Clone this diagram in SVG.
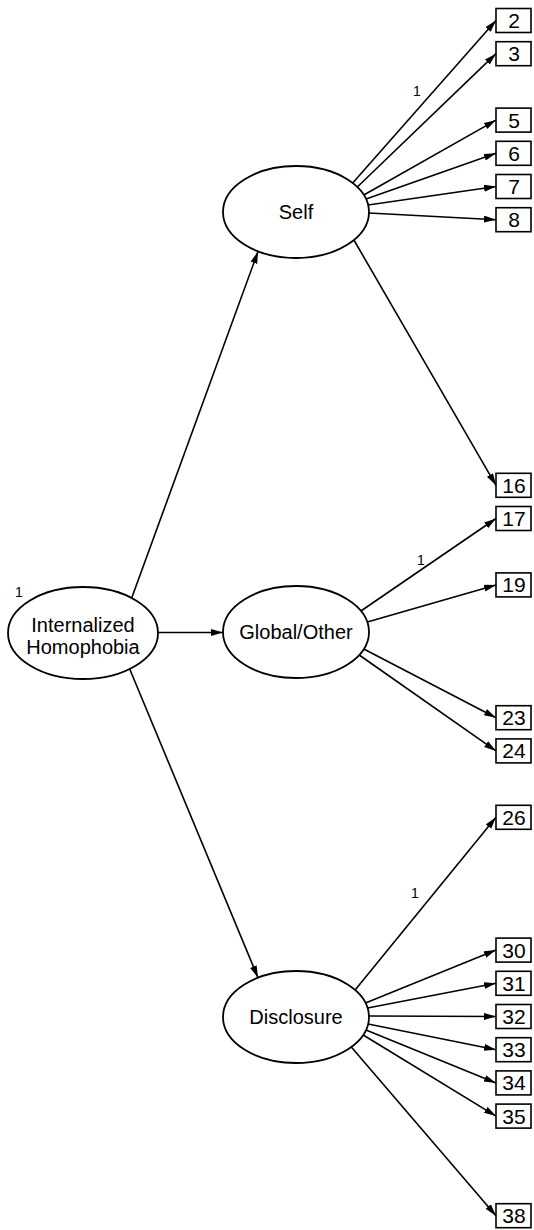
<svg xmlns="http://www.w3.org/2000/svg" width="534" height="1230" viewBox="0 0 534 1230">
<style>
.bg{fill:#fff}
.lat{fill:#fff;stroke:#000;stroke-width:1.8}
.obs{fill:#fff;stroke:#000;stroke-width:1.6}
.t{font-family:"Liberation Sans",Arial,sans-serif;font-size:20px;fill:#000;text-anchor:middle}
.n{font-family:"Liberation Sans",Arial,sans-serif;font-size:21px;fill:#000;text-anchor:middle}
.w{font-family:"Liberation Sans",Arial,sans-serif;font-size:14px;fill:#000;text-anchor:middle}
.e{stroke:#000;stroke-width:1.6;fill:none;marker-end:url(#ah)}
</style>
<defs>
<marker id="ah" markerUnits="userSpaceOnUse" markerWidth="13" markerHeight="8" refX="12" refY="3.5" orient="auto">
<path d="M0,0 L12,3.5 L0,7 z" fill="#000"/>
</marker>
</defs>
<rect class="bg" x="0" y="0" width="534" height="1230"/>
<g id="connectors">
<line class="e" x1="131.7" y1="598" x2="258" y2="251.5"/>
<line class="e" x1="158" y1="632.5" x2="223" y2="632.5"/>
<line class="e" x1="129.7" y1="669" x2="258" y2="977.7"/>
<line class="e" x1="352.7" y1="183" x2="496" y2="20.5"/>
<line class="e" x1="357.3" y1="187" x2="496" y2="53.7"/>
<line class="e" x1="363.8" y1="195" x2="496" y2="120.1"/>
<line class="e" x1="366" y1="199" x2="496" y2="153.3"/>
<line class="e" x1="368.1" y1="205" x2="496" y2="186.5"/>
<line class="e" x1="369" y1="213" x2="496" y2="219.7"/>
<line class="e" x1="353.9" y1="240" x2="496" y2="485.3"/>
<line class="e" x1="360.9" y1="611" x2="496" y2="518.5"/>
<line class="e" x1="367.3" y1="622" x2="496" y2="584.9"/>
<line class="e" x1="363.8" y1="649" x2="496" y2="717.7"/>
<line class="e" x1="359.2" y1="655" x2="496" y2="750.9"/>
<line class="e" x1="355.1" y1="990" x2="496" y2="817.3"/>
<line class="e" x1="365.5" y1="1003" x2="496" y2="950.1"/>
<line class="e" x1="367.6" y1="1008" x2="496" y2="983.3"/>
<line class="e" x1="369" y1="1016" x2="496" y2="1016.5"/>
<line class="e" x1="368.1" y1="1024" x2="496" y2="1049.7"/>
<line class="e" x1="366" y1="1030" x2="496" y2="1082.9"/>
<line class="e" x1="363.2" y1="1035" x2="496" y2="1116.1"/>
<line class="e" x1="351.3" y1="1047" x2="496" y2="1215.7"/>
</g>
<g id="weights">
<text class="w" x="19" y="597">1</text>
<text class="w" x="417" y="96">1</text>
<text class="w" x="421" y="565">1</text>
<text class="w" x="415" y="898">1</text>
</g>
<g id="IH"><ellipse class="lat" cx="83" cy="633" rx="75" ry="46"/><text class="t" x="83" y="632">Internalized</text><text class="t" x="83" y="654">Homophobia</text></g>
<g id="Self"><ellipse class="lat" cx="296" cy="212" rx="73" ry="46"/><text class="t" x="296" y="219">Self</text></g>
<g id="Global"><ellipse class="lat" cx="296" cy="632" rx="73" ry="46"/><text class="t" x="296" y="639">Global/Other</text></g>
<g id="Disclosure"><ellipse class="lat" cx="296" cy="1017" rx="73" ry="46"/><text class="t" x="296" y="1024">Disclosure</text></g>
<g id="v2"><rect class="obs" x="496" y="8.5" width="35" height="24"/><text class="n" x="514" y="28">2</text></g>
<g id="v3"><rect class="obs" x="496" y="41.7" width="35" height="24"/><text class="n" x="514" y="61.2">3</text></g>
<g id="v5"><rect class="obs" x="496" y="108.1" width="35" height="24"/><text class="n" x="514" y="127.6">5</text></g>
<g id="v6"><rect class="obs" x="496" y="141.3" width="35" height="24"/><text class="n" x="514" y="160.8">6</text></g>
<g id="v7"><rect class="obs" x="496" y="174.5" width="35" height="24"/><text class="n" x="514" y="194">7</text></g>
<g id="v8"><rect class="obs" x="496" y="207.7" width="35" height="24"/><text class="n" x="514" y="227.2">8</text></g>
<g id="v16"><rect class="obs" x="496" y="473.3" width="35" height="24"/><text class="n" x="514" y="492.8">16</text></g>
<g id="v17"><rect class="obs" x="496" y="506.5" width="35" height="24"/><text class="n" x="514" y="526">17</text></g>
<g id="v19"><rect class="obs" x="496" y="572.9" width="35" height="24"/><text class="n" x="514" y="592.4">19</text></g>
<g id="v23"><rect class="obs" x="496" y="705.7" width="35" height="24"/><text class="n" x="514" y="725.2">23</text></g>
<g id="v24"><rect class="obs" x="496" y="738.9" width="35" height="24"/><text class="n" x="514" y="758.4">24</text></g>
<g id="v26"><rect class="obs" x="496" y="805.3" width="35" height="24"/><text class="n" x="514" y="824.8">26</text></g>
<g id="v30"><rect class="obs" x="496" y="938.1" width="35" height="24"/><text class="n" x="514" y="957.6">30</text></g>
<g id="v31"><rect class="obs" x="496" y="971.3" width="35" height="24"/><text class="n" x="514" y="990.8">31</text></g>
<g id="v32"><rect class="obs" x="496" y="1004.5" width="35" height="24"/><text class="n" x="514" y="1024">32</text></g>
<g id="v33"><rect class="obs" x="496" y="1037.7" width="35" height="24"/><text class="n" x="514" y="1057.2">33</text></g>
<g id="v34"><rect class="obs" x="496" y="1070.9" width="35" height="24"/><text class="n" x="514" y="1090.4">34</text></g>
<g id="v35"><rect class="obs" x="496" y="1104.1" width="35" height="24"/><text class="n" x="514" y="1123.6">35</text></g>
<g id="v38"><rect class="obs" x="496" y="1203.7" width="35" height="24"/><text class="n" x="514" y="1223.2">38</text></g>
</svg>
